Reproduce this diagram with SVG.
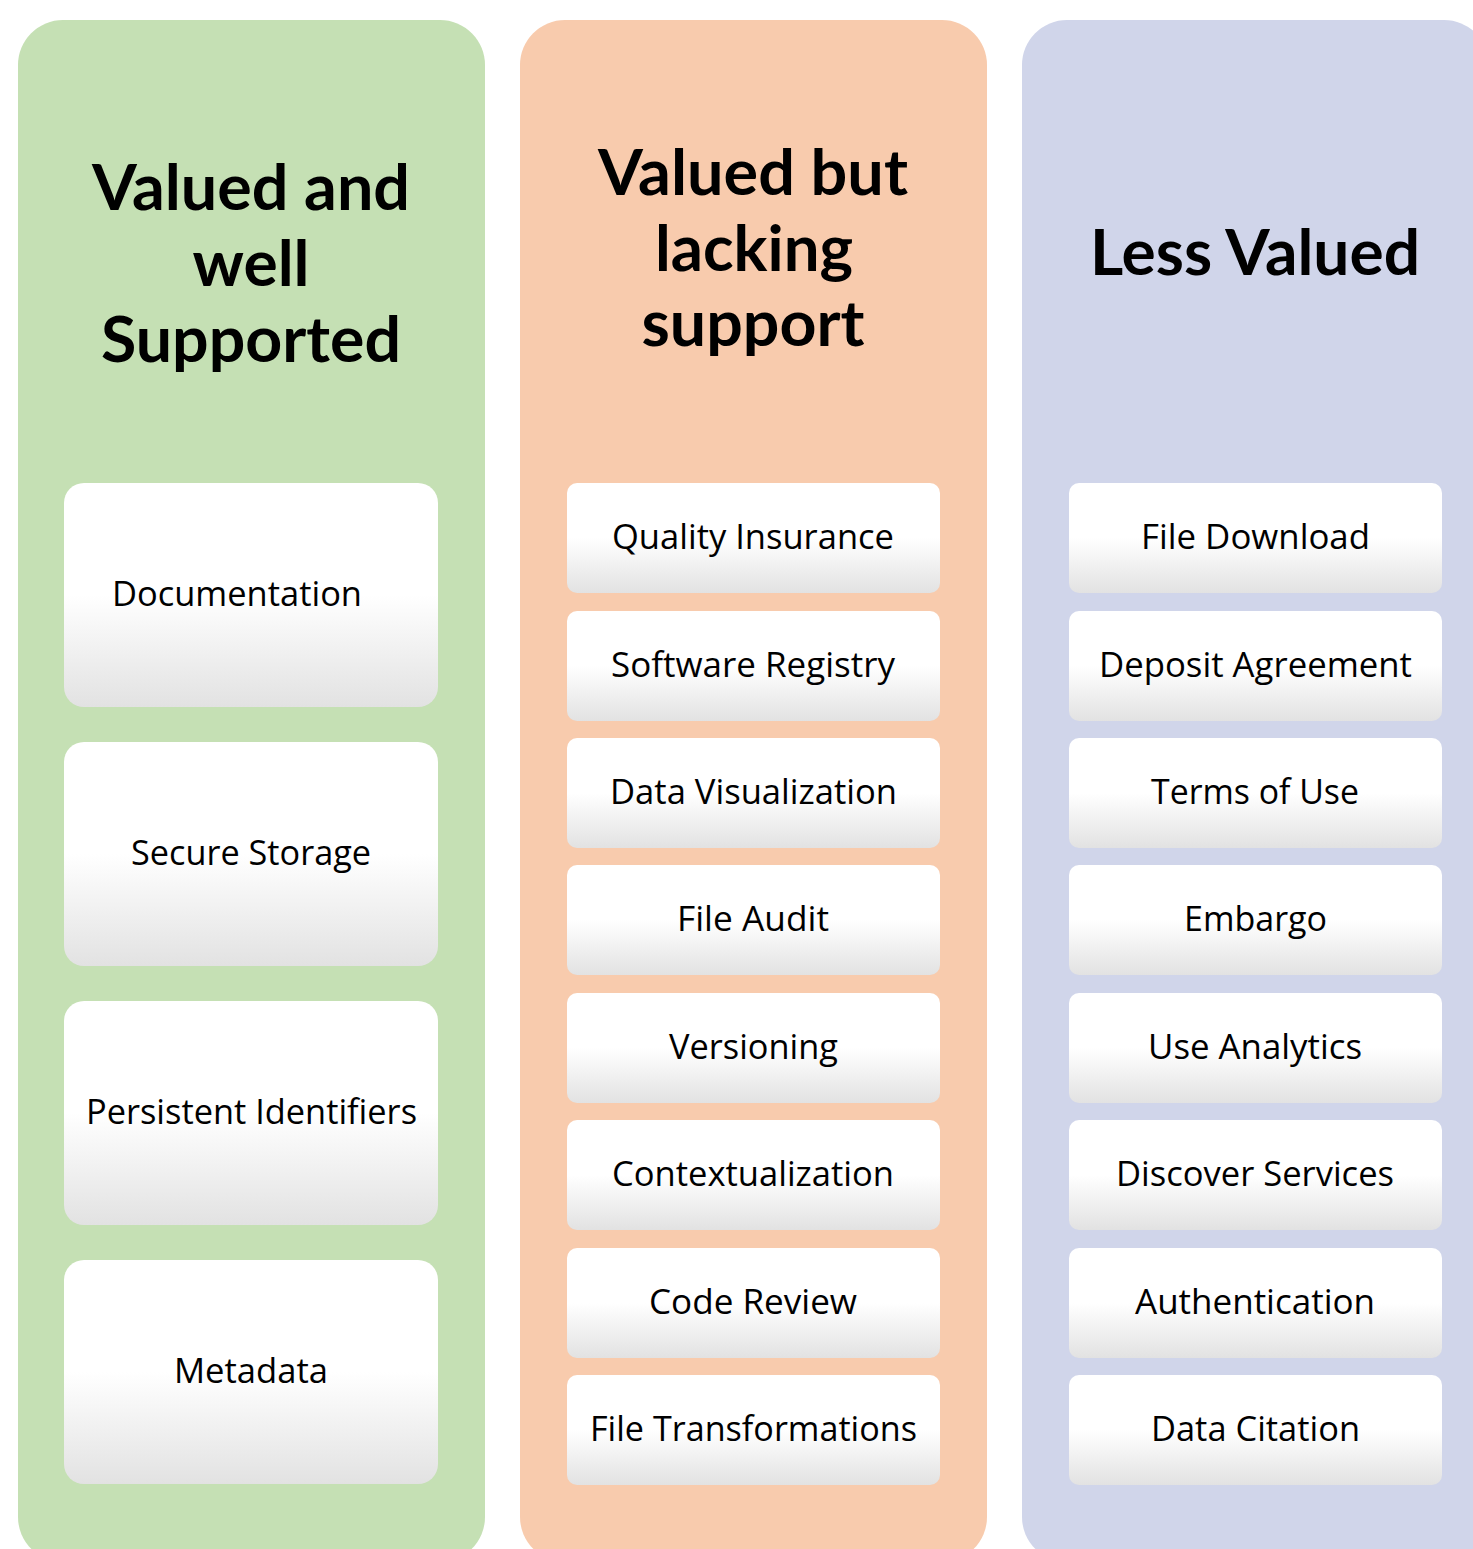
<svg xmlns="http://www.w3.org/2000/svg" width="1473" height="1549" viewBox="0 0 1473 1549">
<defs>
<linearGradient id="boxg" x1="0" y1="0" x2="0" y2="1">
<stop offset="0" stop-color="#ffffff"/>
<stop offset="0.5" stop-color="#ffffff"/>
<stop offset="1" stop-color="#e2e2e2"/>
</linearGradient>
<style>
.col-g{fill:#c5e0b4}
.col-o{fill:#f8cbad}
.col-b{fill:#d0d5ea}
.big{fill:url(#boxg)}
.small{fill:url(#boxg)}
.head{font-family:Lato,"Open Sans",sans-serif;font-weight:bold;font-size:64px;fill:#000;text-anchor:middle}
.lbl{font-family:"Open Sans","Noto Sans",sans-serif;font-size:35px;fill:#000;text-anchor:middle}
</style>
</defs>
<rect width="1473" height="1549" fill="#ffffff"/>
<g id="col-supported">
<rect class="col-g" x="18" y="20" width="467" height="1542" rx="45"/>
<text class="head" x="251" y="210" textLength="318" lengthAdjust="spacingAndGlyphs">Valued and</text>
<text class="head" x="251" y="286" textLength="117" lengthAdjust="spacingAndGlyphs">well</text>
<text class="head" x="251" y="362" textLength="300" lengthAdjust="spacingAndGlyphs">Supported</text>
</g>
<g id="col-lacking">
<rect class="col-o" x="520" y="20" width="467" height="1542" rx="45"/>
<text class="head" x="753" y="195" textLength="310" lengthAdjust="spacingAndGlyphs">Valued but</text>
<text class="head" x="754" y="271" textLength="198" lengthAdjust="spacingAndGlyphs">lacking</text>
<text class="head" x="753" y="346" textLength="223" lengthAdjust="spacingAndGlyphs">support</text>
</g>
<g id="col-less">
<rect class="col-b" x="1022" y="20" width="467" height="1542" rx="45"/>
<text class="head" x="1255" y="275" textLength="330" lengthAdjust="spacingAndGlyphs">Less Valued</text>
</g>
<g id="connectors"/>
<g id="n-documentation"><rect class="big" x="64" y="483" width="374" height="224" rx="20"/><text class="lbl" x="237" y="606" textLength="250" lengthAdjust="spacingAndGlyphs">Documentation</text></g>
<g id="n-secure-storage"><rect class="big" x="64" y="742" width="374" height="224" rx="20"/><text class="lbl" x="251" y="865" textLength="240" lengthAdjust="spacingAndGlyphs">Secure Storage</text></g>
<g id="n-persistent-identifiers"><rect class="big" x="64" y="1001" width="374" height="224" rx="20"/><text class="lbl" x="251.5" y="1124" textLength="331" lengthAdjust="spacingAndGlyphs">Persistent Identifiers</text></g>
<g id="n-metadata"><rect class="big" x="64" y="1260" width="374" height="224" rx="20"/><text class="lbl" x="251" y="1383" textLength="154" lengthAdjust="spacingAndGlyphs">Metadata</text></g>

<g id="n-quality-insurance"><rect class="small" x="567" y="483" width="373" height="110" rx="10"/><text class="lbl" x="753" y="549" textLength="282" lengthAdjust="spacingAndGlyphs">Quality Insurance</text></g>
<g id="n-software-registry"><rect class="small" x="567" y="611" width="373" height="110" rx="10"/><text class="lbl" x="753" y="677" textLength="284" lengthAdjust="spacingAndGlyphs">Software Registry</text></g>
<g id="n-data-visualization"><rect class="small" x="567" y="738" width="373" height="110" rx="10"/><text class="lbl" x="753.5" y="804" textLength="287" lengthAdjust="spacingAndGlyphs">Data Visualization</text></g>
<g id="n-file-audit"><rect class="small" x="567" y="865" width="373" height="110" rx="10"/><text class="lbl" x="753" y="931" textLength="152" lengthAdjust="spacingAndGlyphs">File Audit</text></g>
<g id="n-versioning"><rect class="small" x="567" y="993" width="373" height="110" rx="10"/><text class="lbl" x="753.5" y="1059" textLength="169" lengthAdjust="spacingAndGlyphs">Versioning</text></g>
<g id="n-contextualization"><rect class="small" x="567" y="1120" width="373" height="110" rx="10"/><text class="lbl" x="753" y="1186" textLength="282" lengthAdjust="spacingAndGlyphs">Contextualization</text></g>
<g id="n-code-review"><rect class="small" x="567" y="1248" width="373" height="110" rx="10"/><text class="lbl" x="753" y="1314" textLength="208" lengthAdjust="spacingAndGlyphs">Code Review</text></g>
<g id="n-file-transformations"><rect class="small" x="567" y="1375" width="373" height="110" rx="10"/><text class="lbl" x="753.5" y="1441" textLength="327" lengthAdjust="spacingAndGlyphs">File Transformations</text></g>

<g id="n-file-download"><rect class="small" x="1069" y="483" width="373" height="110" rx="10"/><text class="lbl" x="1255.5" y="549" textLength="229" lengthAdjust="spacingAndGlyphs">File Download</text></g>
<g id="n-deposit-agreement"><rect class="small" x="1069" y="611" width="373" height="110" rx="10"/><text class="lbl" x="1255.5" y="677" textLength="313" lengthAdjust="spacingAndGlyphs">Deposit Agreement</text></g>
<g id="n-terms-of-use"><rect class="small" x="1069" y="738" width="373" height="110" rx="10"/><text class="lbl" x="1255" y="804" textLength="208" lengthAdjust="spacingAndGlyphs">Terms of Use</text></g>
<g id="n-embargo"><rect class="small" x="1069" y="865" width="373" height="110" rx="10"/><text class="lbl" x="1255.5" y="931" textLength="143" lengthAdjust="spacingAndGlyphs">Embargo</text></g>
<g id="n-use-analytics"><rect class="small" x="1069" y="993" width="373" height="110" rx="10"/><text class="lbl" x="1255" y="1059" textLength="214" lengthAdjust="spacingAndGlyphs">Use Analytics</text></g>
<g id="n-discover-services"><rect class="small" x="1069" y="1120" width="373" height="110" rx="10"/><text class="lbl" x="1255" y="1186" textLength="278" lengthAdjust="spacingAndGlyphs">Discover Services</text></g>
<g id="n-authentication"><rect class="small" x="1069" y="1248" width="373" height="110" rx="10"/><text class="lbl" x="1255" y="1314" textLength="240" lengthAdjust="spacingAndGlyphs">Authentication</text></g>
<g id="n-data-citation"><rect class="small" x="1069" y="1375" width="373" height="110" rx="10"/><text class="lbl" x="1255.5" y="1441" textLength="209" lengthAdjust="spacingAndGlyphs">Data Citation</text></g>
</svg>
